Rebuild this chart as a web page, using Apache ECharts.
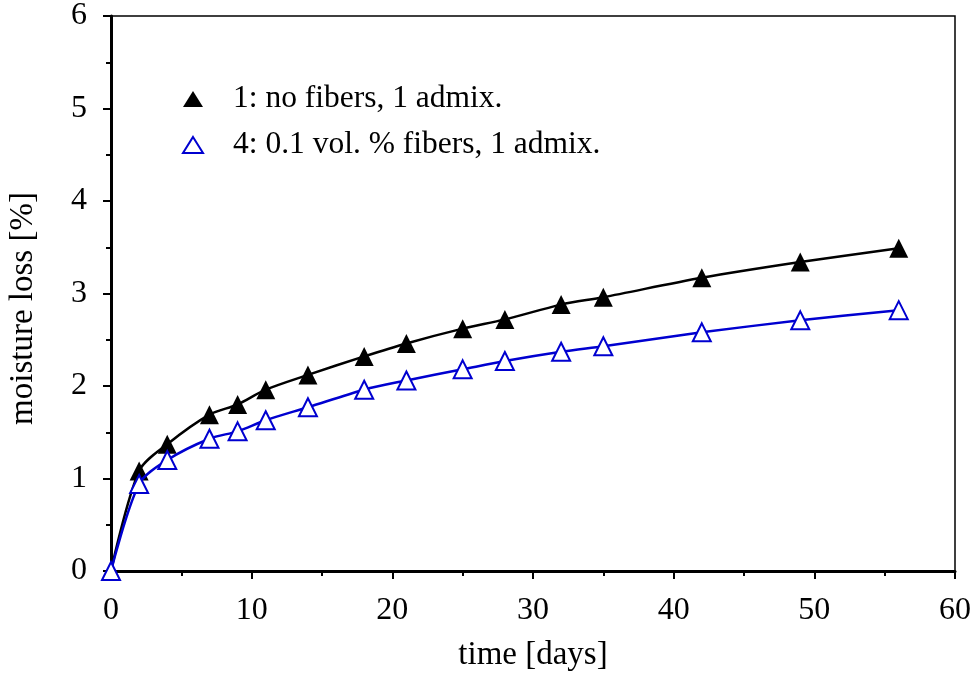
<!DOCTYPE html>
<html><head><meta charset="utf-8">
<script src="https://cdn.jsdelivr.net/npm/echarts@6/dist/echarts.min.js"></script>
<style>html,body{margin:0;padding:0;background:#fff}#c{width:973px;height:675px}</style>
</head><body><div id="c"></div>
<script>
const days = [0, 2, 4, 7, 9, 11, 14, 18, 21, 25, 28, 32, 35, 42, 49, 56];
const noFibers = [0, 1.08, 1.37, 1.69, 1.80, 1.96, 2.12, 2.32, 2.46, 2.62, 2.72, 2.88, 2.96, 3.17, 3.34, 3.49];
const fibers01 = [0, 0.94, 1.20, 1.43, 1.51, 1.63, 1.77, 1.96, 2.06, 2.18, 2.27, 2.37, 2.43, 2.58, 2.71, 2.82];
const seriesNames = ['1: no fibers, 1 admix.', '4: 0.1 vol. % fibers, 1 admix.'];
const xTicks = [0, 10, 20, 30, 40, 50, 60];
const yTicks = [0, 1, 2, 3, 4, 5, 6];

const font = 'Liberation Serif';
const chart = echarts.init(document.getElementById('c'));
const pair = (xs, ys) => xs.map((x, i) => [x, ys[i]]);
chart.setOption({
  animation: false,
  backgroundColor: '#fff',
  grid: {left: 111, right: 18, top: 16, bottom: 104, outerBoundsMode: 'none', containLabel: false,
         show: true, borderColor: '#000', borderWidth: 1.5, backgroundColor: 'transparent'},
  legend: {
    left: 177, top: 78, orient: 'vertical', itemGap: 14, itemWidth: 20, itemHeight: 16,
    textStyle: {fontFamily: font, fontSize: 31.5, color: '#000', padding: [0, 0, 0, 25]},
    data: [{name: seriesNames[0], icon: 'triangle'}, {name: seriesNames[1], icon: 'emptyTriangle'}]
  },
  xAxis: {
    type: 'value', min: xTicks[0], max: xTicks[xTicks.length - 1], interval: 10,
    name: 'time [days]', nameLocation: 'middle', nameGap: 68,
    nameTextStyle: {fontFamily: font, fontSize: 33, color: '#000'},
    axisLine: {lineStyle: {color: '#000', width: 3}},
    axisTick: {inside: false, length: 8, lineStyle: {color: '#000', width: 2}},
    minorTick: {show: true, splitNumber: 2, length: 5, lineStyle: {color: '#000', width: 2}},
    splitLine: {show: false},
    axisLabel: {fontFamily: font, fontSize: 32, color: '#000', margin: 24}
  },
  yAxis: {
    type: 'value', min: yTicks[0], max: yTicks[yTicks.length - 1], interval: 1,
    name: 'moisture loss [%]', nameLocation: 'middle', nameGap: 71, nameRotate: 90,
    nameTextStyle: {fontFamily: font, fontSize: 33, color: '#000', padding: [0, 30, 0, 0]},
    axisLine: {lineStyle: {color: '#000', width: 3}},
    axisTick: {inside: false, length: 8, lineStyle: {color: '#000', width: 2}},
    minorTick: {show: true, splitNumber: 2, length: 5, lineStyle: {color: '#000', width: 2}},
    splitLine: {show: false},
    axisLabel: {fontFamily: font, fontSize: 32, color: '#000', margin: 24}
  },
  series: [
    {
      name: seriesNames[0], type: 'line', data: pair(days, noFibers), smooth: 0.3,
      symbol: 'triangle', symbolSize: 19,
      itemStyle: {color: '#000'}, lineStyle: {color: '#000', width: 2.5}, z: 3
    },
    {
      name: seriesNames[1], type: 'line', data: pair(days, fibers01), smooth: 0.3,
      symbol: 'emptyTriangle', symbolSize: 18,
      itemStyle: {color: '#0000d0', borderColor: '#0000d0', borderWidth: 2.5}, lineStyle: {color: '#0000d0', width: 2.5}, z: 4
    }
  ]
});
</script></body></html>
